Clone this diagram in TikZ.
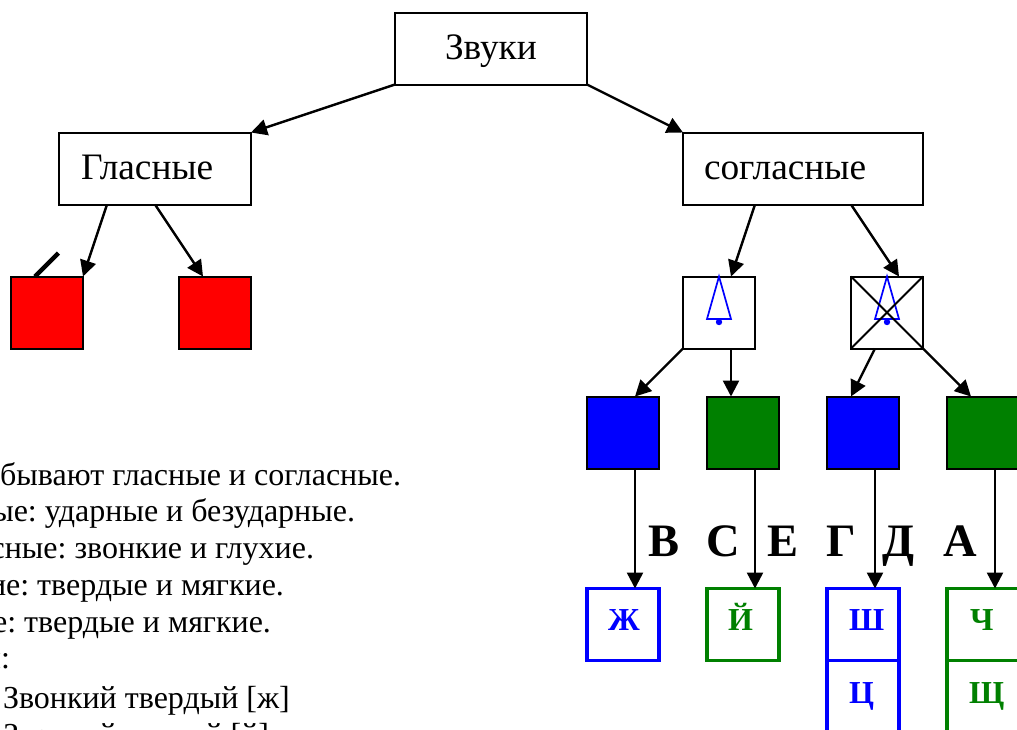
\documentclass[tikz,border=0pt]{standalone}
\usepackage{fontspec}
\setmainfont{Liberation Serif}
\usetikzlibrary{arrows.meta}
\definecolor{dgreen}{RGB}{0,128,0}
\tikzset{
 every node/.style={inner sep=0pt,outer sep=0pt},
 lab/.style={draw=black,line width=2pt,fill=white,minimum width=#1,minimum height=72pt,anchor=north west},
 sq/.style={draw=black,line width=2pt,fill=#1,minimum width=72pt,minimum height=72pt,anchor=north west},
 letterbox/.style={draw=#1,line width=3.2pt,minimum width=72pt,minimum height=72pt,anchor=north west},
 conn/.style={draw=black,line width=2.4pt,-{Triangle[length=16pt,width=16pt]}},
 head/.style={anchor=base west,font=\fontsize{37.33}{40}\selectfont},
 body/.style={anchor=base east,font=\fontsize{32}{36}\selectfont\frenchspacing},
 bodyw/.style={anchor=base west,font=\fontsize{32}{36}\selectfont\frenchspacing},
 big/.style={anchor=base west,font=\fontsize{46.5}{48}\selectfont\bfseries},
 small/.style={anchor=base west,text=#1,font=\fontsize{32}{32}\selectfont\bfseries},
 bellline/.style={draw=blue,line width=1.7pt},
}
\begin{document}
\begin{tikzpicture}[x=1pt,y=-1pt]
\useasboundingbox (0,0) rectangle (1017,729);
\clip (0,0) rectangle (1017,729);
% main boxes
\node[lab=192pt] (zvuki) at (395,12.5) {};
\node[lab=192pt] (glas) at (59,132.5) {};
\node[lab=240pt] (sogl) at (683,132.5) {};
\node[head] (zvukit) at (445,59.5) {Звуки};
\node[head] (glast) at (81,179) {Гласные};
\node[head] (soglt) at (704,179) {согласные};
% red
\node[sq=red] (red1) at (11,276.5) {};
\node[sq=red] (red2) at (179,276.5) {};
\draw[line width=4.5pt] (35,276.5) -- (58.5,253);
% bells
\node[sq=white] (bell1) at (683,276.5) {};
\node[sq=white] (bell2) at (851,276.5) {};
\draw[bellline] (bell1.north) -- (707,319) -- (731,319) -- cycle;
\fill[blue] (719,322) circle (3.2pt);
\draw[bellline] (bell2.north) -- (875,319) -- (899,319) -- cycle;
\fill[blue] (887,322) circle (3.2pt);
\draw[line width=2pt] (bell2.north west) -- (bell2.south east);
\draw[line width=2pt] (bell2.north east) -- (bell2.south west);
% coloured squares
\node[sq=blue] (b1) at (587,396.5) {};
\node[sq=dgreen] (g1) at (707,396.5) {};
\node[sq=blue] (b2) at (827,396.5) {};
\node[sq=dgreen] (g2) at (947,396.5) {};
% letter boxes
\node[letterbox=blue] (zh) at (587,588.5) {};
\node[letterbox=dgreen] (yy) at (707,588.5) {};
\node[letterbox=blue] (sh) at (827,588.5) {};
\node[letterbox=blue] (ts) at (827,660.5) {};
\node[letterbox=dgreen] (ch) at (947,588.5) {};
\node[letterbox=dgreen] (sc) at (947,660.5) {};
\node[small=blue] (tzh) at (608,630.5) {Ж};
\node[small=dgreen] (tyy) at (728,630.5) {Й};
\node[small=blue] (tsh) at (849,630.5) {Ш};
\node[small=dgreen] (tch) at (970,630.5) {Ч};
\node[small=blue] (tts) at (849,703) {Ц};
\node[small=dgreen] (tsc) at (969,703) {Щ};
% big letters
\node[big] (l1) at (648,556.5) {В};
\node[big] (l2) at (706,556.5) {С};
\node[big] (l3) at (767,556.5) {Е};
\node[big] (l4) at (826,556.5) {Г};
\node[big] (l5) at (882,556.5) {Д};
\node[big] (l6) at (943,556.5) {А};
% connectors
\draw[conn] (zvuki.south west) -- (glas.north east);
\draw[conn] (zvuki.south east) -- (sogl.north west);
\draw[conn] ([xshift=48pt]glas.south west) -- (red1.north east);
\draw[conn] ([xshift=96pt]glas.south west) -- ([xshift=24pt]red2.north west);
\draw[conn] ([xshift=72pt]sogl.south west) -- ([xshift=48pt]bell1.north west);
\draw[conn] ([xshift=168pt]sogl.south west) -- ([xshift=48pt]bell2.north west);
\draw[conn] (bell1.south west) -- ([xshift=48pt]b1.north west);
\draw[conn] ([xshift=48pt]bell1.south west) -- ([xshift=24pt]g1.north west);
\draw[conn] ([xshift=24pt]bell2.south west) -- ([xshift=24pt]b2.north west);
\draw[conn] (bell2.south east) -- ([xshift=24pt]g2.north west);
\draw[conn] ([xshift=48pt]b1.south west) -- ([xshift=48pt]zh.north west);
\draw[conn] ([xshift=48pt]g1.south west) -- ([xshift=48pt]yy.north west);
\draw[conn] ([xshift=48pt]b2.south west) -- ([xshift=48pt]sh.north west);
\draw[conn] ([xshift=48pt]g2.south west) -- ([xshift=48pt]ch.north west);
% text
\node[body] (t1) at (401,485) {бывают гласные и согласные.};
\node[body] (t2) at (355,521.5) {ые: ударные и безударные.};
\node[body] (t3) at (314,558) {сные: звонкие и глухие.};
\node[body] (t4) at (284,595) {ие: твердые и мягкие.};
\node[body] (t5) at (271,632) {е: твердые и мягкие.};
\node[body] (t6) at (10,668) {и:};
\node[bodyw] (t7) at (3,708.5) {Звонкий твердый [ж]};
\node[bodyw] (t8) at (3,745) {Звонкий мягкий [й]};
\end{tikzpicture}
\end{document}
